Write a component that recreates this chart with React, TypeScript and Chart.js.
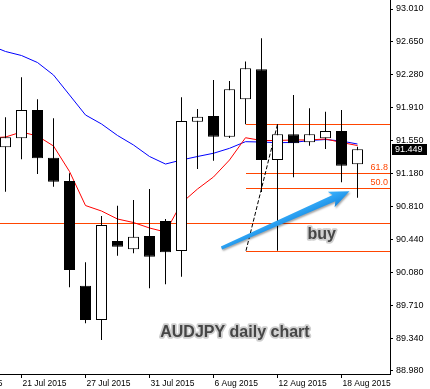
import React, { useEffect, useRef } from 'react';
import { Chart, registerables } from 'chart.js';

Chart.register(...registerables);

// ---------- data ----------
const dates = [
  '15 Jul 2015', '16 Jul 2015', '17 Jul 2015', '20 Jul 2015', '21 Jul 2015', '22 Jul 2015',
  '23 Jul 2015', '24 Jul 2015', '27 Jul 2015', '28 Jul 2015', '29 Jul 2015', '30 Jul 2015',
  '31 Jul 2015', '3 Aug 2015', '4 Aug 2015', '5 Aug 2015', '6 Aug 2015', '7 Aug 2015',
  '10 Aug 2015', '11 Aug 2015', '12 Aug 2015', '13 Aug 2015', '14 Aug 2015', '17 Aug 2015',
  '18 Aug 2015', '19 Aug 2015',
];

// candles start at '20 Jul 2015'
const candleStart = 3;
const open = [91.470, 91.570, 91.886, 91.355, 91.095, 89.930, 89.548, 90.427, 90.335, 90.483, 90.650, 90.316, 91.755, 91.819, 91.588, 92.005, 92.339, 91.329, 91.615, 91.526, 91.570, 91.652, 91.281];
const high = [91.804, 92.250, 92.005, 91.793, 91.181, 90.190, 90.706, 90.820, 90.884, 91.006, 90.672, 92.027, 91.897, 92.220, 92.208, 92.426, 92.684, 91.726, 92.053, 91.905, 91.867, 91.886, 91.477];
const low = [90.976, 91.337, 91.173, 91.032, 89.912, 89.511, 89.325, 90.264, 90.290, 89.901, 89.945, 90.030, 91.229, 91.321, 91.574, 91.726, 90.973, 90.319, 91.136, 91.488, 91.451, 91.081, 90.909];
const close = [91.582, 91.886, 91.348, 91.087, 90.104, 89.548, 90.605, 90.364, 90.475, 90.252, 90.301, 91.763, 91.811, 91.588, 92.116, 92.350, 91.329, 91.615, 91.515, 91.615, 91.652, 91.266, 91.449];

// moving averages start at '17 Jul 2015'
const maStart = 2;
const maFast = [91.574, 91.585, 91.641, 91.596, 91.485, 91.201, 90.822, 90.761, 90.672, 90.633, 90.572, 90.527, 90.850, 91.006, 91.140, 91.329, 91.577, 91.546, 91.546, 91.552, 91.552, 91.563, 91.524, 91.490];
const maSlow = [92.609, 92.537, 92.492, 92.414, 92.275, 92.053, 91.830, 91.730, 91.602, 91.496, 91.368, 91.284, 91.329, 91.368, 91.404, 91.459, 91.533, 91.529, 91.522, 91.524, 91.546, 91.557, 91.540, 91.507];

const yTicks = [93.01, 92.65, 92.28, 91.91, 91.55, 91.18, 90.81, 90.44, 90.08, 89.71, 89.34, 88.98];
const xTickDates = ['15 Jul 2015', '21 Jul 2015', '27 Jul 2015', '31 Jul 2015', '6 Aug 2015', '12 Aug 2015', '18 Aug 2015'];

const supportLevel = 90.624;
const fibFrom = { date: '10 Aug 2015', price: 90.319 };
const fibTo = { date: '12 Aug 2015', price: 91.726 };
const fibLevels = [0, 0.5, 0.618, 1];
const fibLabels = ['', '50.0', '61.8', ''];

const arrowFrom = { x: 16.5, y: 90.35 };
const arrowTo = { x: 24.5, y: 90.98 };
const buyLabel = { text: 'buy', x: 22.76, y: 90.444 };
const titleLabel = { text: 'AUDJPY daily chart', x: 17.34, y: 89.358 };

// view window
const xMin = 2.65625;
const xMax = 27.03125;
const yMin = 88.9466;
const yMax = 93.1102;

const FONT = '"Liberation Sans", Arial, sans-serif';
const ORANGE = '#ff4500';

const objectsPlugin = {
  id: 'objects',
  beforeDatasetsDraw(chart: any) {
    const { ctx, chartArea: a, scales } = chart;
    const x = scales.x, y = scales.y;
    ctx.save();
    ctx.beginPath();
    ctx.rect(a.left, a.top, a.right - a.left, a.bottom - a.top);
    ctx.clip();
    ctx.fillStyle = ORANGE;
    const sy = Math.round(y.getPixelForValue(supportLevel));
    ctx.fillRect(a.left, sy, a.right - a.left, 1);

    const fx = Math.round(x.getPixelForValue(dates.indexOf(fibFrom.date)));
    fibLevels.forEach((lv, i) => {
      const p = fibFrom.price + (fibTo.price - fibFrom.price) * lv;
      const py = Math.round(y.getPixelForValue(p));
      ctx.fillStyle = ORANGE;
      ctx.fillRect(fx, py, a.right - fx, 1);
      if (fibLabels[i]) {
        ctx.font = `9px ${FONT}`;
        ctx.textAlign = 'right';
        ctx.textBaseline = 'bottom';
        ctx.fillText(fibLabels[i], a.right - 2, py - 1);
      }
    });

    ctx.setLineDash([4, 2]);
    ctx.lineWidth = 1;
    ctx.strokeStyle = '#000';
    ctx.beginPath();
    ctx.moveTo(fx, y.getPixelForValue(fibFrom.price));
    ctx.lineTo(x.getPixelForValue(dates.indexOf(fibTo.date)), y.getPixelForValue(fibTo.price));
    ctx.stroke();
    ctx.restore();
  },
};

function drawLabel(ctx: CanvasRenderingContext2D, text: string, px: number, py: number) {
  ctx.save();
  ctx.font = `bold 16px ${FONT}`;
  ctx.textAlign = 'center';
  ctx.textBaseline = 'alphabetic';
  ctx.lineJoin = 'round';
  ctx.lineWidth = 3.5;
  ctx.strokeStyle = '#cfcfcf';
  ctx.strokeText(text, px, py);
  ctx.fillStyle = '#464646';
  ctx.fillText(text, px, py);
  ctx.restore();
}

const annotationPlugin = {
  id: 'annotations',
  afterDatasetsDraw(chart: any) {
    const { ctx, chartArea: a, scales } = chart;
    const x = scales.x, y = scales.y;

    // arrow
    const x0 = x.getPixelForValue(arrowFrom.x), y0 = y.getPixelForValue(arrowFrom.y);
    const x1 = x.getPixelForValue(arrowTo.x), y1 = y.getPixelForValue(arrowTo.y);
    const dx = x1 - x0, dy = y1 - y0;
    const len = Math.hypot(dx, dy);
    const ux = dx / len, uy = dy / len;
    const nx = -uy, ny = ux;
    const headLen = 17, headW = 8.5, tailW = 1.6, neckW = 3.4, sweep = 3;
    const bx = x1 - ux * headLen, by = y1 - uy * headLen;
    ctx.save();
    ctx.shadowColor = 'rgba(0,0,0,0.35)';
    ctx.shadowBlur = 2;
    ctx.shadowOffsetX = 1;
    ctx.shadowOffsetY = 1.5;
    const g = ctx.createLinearGradient(bx - nx * headW, by - ny * headW, bx + nx * headW, by + ny * headW);
    g.addColorStop(0, '#3cb4ff');
    g.addColorStop(1, '#1688e0');
    ctx.fillStyle = g;
    ctx.beginPath();
    ctx.moveTo(x0 + nx * tailW, y0 + ny * tailW);
    ctx.lineTo(bx + nx * neckW, by + ny * neckW);
    ctx.lineTo(bx - ux * sweep + nx * headW, by - uy * sweep + ny * headW);
    ctx.lineTo(x1, y1);
    ctx.lineTo(bx - ux * sweep - nx * headW, by - uy * sweep - ny * headW);
    ctx.lineTo(bx - nx * neckW, by - ny * neckW);
    ctx.lineTo(x0 - nx * tailW, y0 - ny * tailW);
    ctx.closePath();
    ctx.fill();
    ctx.restore();

    drawLabel(ctx, buyLabel.text, x.getPixelForValue(buyLabel.x), y.getPixelForValue(buyLabel.y));
    drawLabel(ctx, titleLabel.text, x.getPixelForValue(titleLabel.x), y.getPixelForValue(titleLabel.y));

    // current price box
    const last = close[close.length - 1];
    const py = Math.round(y.getPixelForValue(last));
    ctx.save();
    ctx.fillStyle = '#000';
    ctx.fillRect(a.right + 2, py - 5, 35, 11);
    ctx.fillStyle = '#fff';
    ctx.font = `9px ${FONT}`;
    ctx.textAlign = 'left';
    ctx.textBaseline = 'middle';
    ctx.fillText(last.toFixed(3), a.right + 5, py + 0.5);
    ctx.restore();
  },
};

export default function App() {
  const ref = useRef<HTMLCanvasElement>(null);
  useEffect(() => {
    document.body.style.margin = '0';
    const canvas = ref.current!;
    const chart = new Chart(canvas, {
      type: 'bar',
      data: {
        datasets: [
          {
            type: 'line',
            label: 'slow',
            data: maSlow.map((v, i) => ({ x: maStart + i, y: v })),
            borderColor: '#0000ff',
            borderWidth: 1,
            pointRadius: 0,
            tension: 0,
            order: 4,
          } as any,
          {
            type: 'line',
            label: 'fast',
            data: maFast.map((v, i) => ({ x: maStart + i, y: v })),
            borderColor: '#ff0000',
            borderWidth: 1,
            pointRadius: 0,
            tension: 0,
            order: 3,
          } as any,
          {
            type: 'bar',
            label: 'wick',
            data: high.map((h, i) => ({ x: candleStart + i, y: [low[i], h] })),
            backgroundColor: '#000',
            borderWidth: 0,
            maxBarThickness: 1,
            grouped: false,
            inflateAmount: 0,
            order: 2,
          } as any,
          {
            type: 'bar',
            label: 'body',
            data: open.map((o, i) => ({ x: candleStart + i, y: [o, close[i]] })),
            backgroundColor: open.map((o, i) => (close[i] >= o ? '#ffffff' : '#000000')),
            borderColor: '#000',
            borderWidth: 1,
            borderSkipped: false,
            maxBarThickness: 11,
            grouped: false,
            inflateAmount: 0,
            order: 1,
          } as any,
        ],
      },
      options: {
        responsive: false,
        animation: false,
        devicePixelRatio: 1,
        events: [],
        layout: { padding: 0 },
        plugins: { legend: { display: false }, tooltip: { enabled: false } },
        scales: {
          x: {
            type: 'linear',
            min: xMin,
            max: xMax,
            offset: false,
            bounds: 'data',
            afterBuildTicks: (s: any) => {
              s.ticks = xTickDates.map((d) => ({ value: dates.indexOf(d) }));
            },
            afterFit: (s: any) => {
              s.height = 15;
              s.paddingLeft = 0;
              s.paddingRight = 0;
            },
            ticks: {
              callback: (v: any) => dates[v] ?? '',
              align: 'start',
              maxRotation: 0,
              minRotation: 0,
              autoSkip: false,
              font: { family: FONT, size: 8.5 },
              color: '#000',
              padding: 1,
              labelOffset: 1,
            },
            grid: { drawOnChartArea: false, drawTicks: true, tickLength: 4, color: '#000', offset: false },
            border: { display: true, color: '#000', width: 1 },
          } as any,
          y: {
            type: 'linear',
            position: 'right',
            min: yMin,
            max: yMax,
            bounds: 'data',
            beginAtZero: false,
            afterBuildTicks: (s: any) => {
              s.ticks = yTicks.map((v) => ({ value: v }));
            },
            afterFit: (s: any) => {
              s.width = 40;
              s.paddingTop = 0;
              s.paddingBottom = 0;
            },
            ticks: {
              callback: (v: any) => Number(v).toFixed(3),
              font: { family: FONT, size: 9 },
              color: '#000',
              padding: 3,
              autoSkip: false,
            },
            grid: { drawOnChartArea: false, drawTicks: true, tickLength: 3, color: '#000' },
            border: { display: true, color: '#000', width: 1 },
          } as any,
        },
      },
      plugins: [objectsPlugin, annotationPlugin],
    });
    return () => chart.destroy();
  }, []);
  return (
    <div style={{ width: 430, height: 389 }}>
      <canvas ref={ref} width={430} height={389} style={{ display: 'block' }} />
    </div>
  );
}
